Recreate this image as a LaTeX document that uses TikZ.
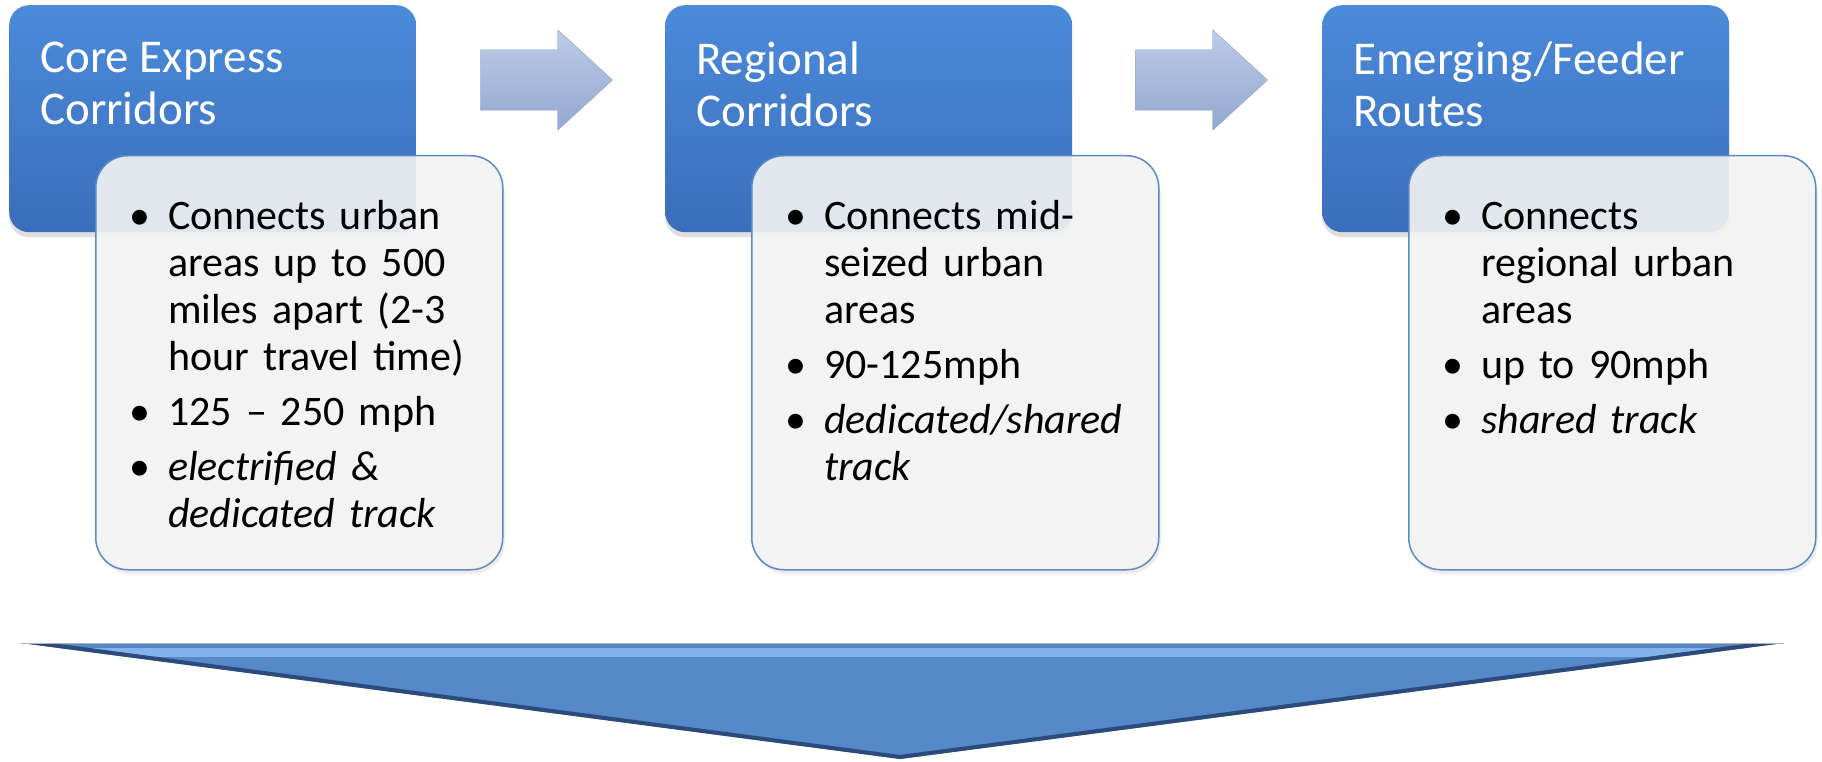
\documentclass[tikz,border=0pt]{standalone}
\usepackage{fontspec}
\setmainfont{Carlito}
\usepackage{enumitem}
\usetikzlibrary{shapes.arrows,shadows}

\definecolor{bleuhaut}{HTML}{4B8BDA}
\definecolor{bleubas}{HTML}{3A6EBC}
\definecolor{bordcarte}{HTML}{5B8AC6}
\definecolor{fondcarte}{HTML}{F4F4F4}
\definecolor{flechehaut}{HTML}{BCCBE8}
\definecolor{flechebas}{HTML}{93A8D0}
\definecolor{flechebord}{HTML}{8B9EC6}
\definecolor{pointe}{HTML}{5589CA}
\definecolor{pointebord}{HTML}{2C4A7A}
\definecolor{reflet}{HTML}{84B2EA}

\setlist[itemize]{label=\textbullet, leftmargin=73pt, labelsep=18pt,
  itemsep=8pt, topsep=0pt, parsep=0pt, partopsep=0pt}

% Contenu des cartes
\newcommand{\corpsA}{\begin{itemize}
  \item Connects urban\\ areas up to 500\\ miles apart (2-3\\ hour travel time)
  \item 125 -- 250 mph
  \item \textit{electrified \&\\ dedicated track}
\end{itemize}}
\newcommand{\corpsB}{\begin{itemize}
  \item Connects mid-\\ seized urban\\ areas
  \item 90-125mph
  \item \textit{dedicated/shared\\ track}
\end{itemize}}
\newcommand{\corpsC}{\begin{itemize}
  \item Connects\\ regional urban\\ areas
  \item up to 90mph
  \item \textit{shared track}
\end{itemize}}

\tikzset{
  boite/.style={anchor=north west, rounded corners=20pt, inner sep=0pt,
    minimum width=407pt, minimum height=227pt,
    top color=bleuhaut, bottom color=bleubas,
    drop shadow={opacity=0.25, shadow xshift=0pt, shadow yshift=-5pt}},
  titre/.style={anchor=north west, inner sep=0pt, align=left, text=white,
    font=\fontsize{47}{52}\selectfont},
  carte/.style={anchor=north west, rounded corners=32pt, inner sep=0pt,
    minimum width=407pt, minimum height=414pt,
    draw=bordcarte, line width=1.5pt, fill=fondcarte, fill opacity=0.9,
    drop shadow={opacity=0.15, shadow xshift=2pt, shadow yshift=-4pt}},
  liste/.style={anchor=north west, inner sep=0pt, text width=420pt,
    align=left, font=\fontsize{42}{47}\selectfont},
  fleche/.style={single arrow, inner xsep=0pt, inner ysep=30pt,
    minimum height=132pt, single arrow head extend=20pt,
    single arrow tip angle=85,
    top color=flechehaut, bottom color=flechebas, draw=flechebord}
}

\begin{document}
\begin{tikzpicture}[x=1pt,y=1pt]
\useasboundingbox (0,0) rectangle (1822,-762);

% Trois colonnes : titre bleu + carte de points
\foreach \i/\x/\titre/\corps in {1/9/{Core Express\\Corridors}/\corpsA,
                                 2/665/{Regional\\Corridors}/\corpsB,
                                 3/1322/{Emerging/Feeder\\Routes}/\corpsC} {
  \node[boite] (boite\i) at (\x,-5) {};
  \node[titre] (titre\i) at ([shift={(31,-37)}]boite\i.north west) {\titre};
  \node[carte] (carte\i) at ([shift={(86,-150)}]boite\i.north west) {};
  \node[liste] (liste\i) at ([shift={(0,-27)}]carte\i.north west) {\corps};
}

% Flèches entre les colonnes
\node[fleche] (fleche1) at (530,-80) {};
\node[fleche] (fleche2) at (1185,-80) {};

% Grande pointe vers le bas
\coordinate (g) at (21,-643);
\coordinate (d) at (1784,-643);
\coordinate (p) at (900,-759);
\fill[pointe] (g) -- (d) -- (p) -- cycle;
\begin{scope}
  \clip (g) -- (d) -- (p) -- cycle;
  \fill[reflet] (0,-648) rectangle (1822,-657);
  \draw[pointebord, line width=8pt] (g) -- (p) -- (d);
\end{scope}
\draw[gray!60] (g) -- (d);
\end{tikzpicture}
\end{document}
